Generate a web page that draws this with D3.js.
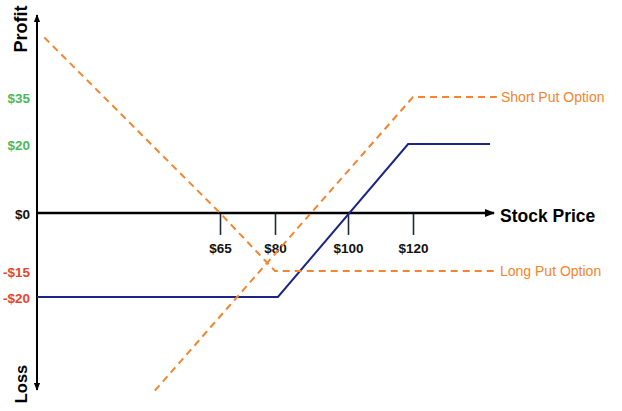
<!DOCTYPE html>
<html>
<head>
<meta charset="utf-8">
<script src="https://cdn.jsdelivr.net/npm/d3@7"></script>
<style>
  body { margin: 0; background: #fff; }
  text { font-family: Arial, "Liberation Sans", sans-serif; }
</style>
</head>
<body>
<div id="chart"></div>
<script>
// stock prices marked on the x axis
var priceTicks = [65, 80, 100, 120];
// profit levels marked on the y axis
var profitTicks = [35, 20, 0, -15, -20];
var profitColors = ["#4cb858", "#4cb858", "#111", "#e8432f", "#e8432f"];

// each series: [stock price, profit]
var spread = [[15, -20], [80.8, -20], [118.5, 20], [143.7, 20]];
var shortPut = [[47.2, -38], [120, 35], [145.8, 35]];
var longPut = [[17, 54], [65, 0], [80, -15], [145.8, -15]];

var W = 622, H = 411;

var svg = d3.select("#chart")
  .append("svg")
    .attr("width", W)
    .attr("height", H);

// the picture is a sketch, so the scales are piecewise
var x = d3.scaleLinear()
  .domain([15, 65, 80, 100, 120])
  .range([37, 220, 275, 348, 413]);
var y = d3.scaleLinear()
  .domain([-20, -15, 0, 20, 35])
  .range([297, 271, 213, 144, 97]);

// arrow heads
var defs = svg.append("defs");
defs.append("marker")
    .attr("id", "arrow")
    .attr("viewBox", "0 0 10 10")
    .attr("refX", 9).attr("refY", 5)
    .attr("markerWidth", 4).attr("markerHeight", 4)
    .attr("markerUnits", "strokeWidth")
    .attr("orient", "auto-start-reverse")
  .append("path")
    .attr("d", "M0,1 L10,5 L0,9 z")
    .attr("fill", "#000");

// y axis line
svg.append("line")
  .attr("x1", x(15)).attr("x2", x(15))
  .attr("y1", 390).attr("y2", 15)
  .attr("stroke", "#000")
  .attr("stroke-width", 2)
  .attr("marker-start", "url(#arrow)")
  .attr("marker-end", "url(#arrow)");

// x axis ticks
var xAxis = svg.append("g")
  .attr("transform", "translate(0," + y(0) + ")")
  .call(d3.axisBottom(x).tickValues(priceTicks).tickSize(22).tickFormat(function(d) { return "$" + d; }));
xAxis.select(".domain").remove();
xAxis.selectAll(".tick line").attr("stroke", "#1f2a3a").attr("stroke-width", 1.6);
xAxis.selectAll(".tick text")
  .attr("y", 30)
  .attr("dy", "0.71em")
  .style("font-size", "13.5px")
  .style("font-weight", "bold")
  .style("font-family", "Arial, 'Liberation Sans', sans-serif")
  .attr("fill", "#111");

// x axis line
svg.append("line")
  .attr("x1", x(15)).attr("x2", 494)
  .attr("y1", y(0)).attr("y2", y(0))
  .attr("stroke", "#000")
  .attr("stroke-width", 2.6)
  .attr("marker-end", "url(#arrow)");

// y axis labels
var yAxis = svg.append("g")
  .attr("transform", "translate(" + (x(15) - 7) + ",0)")
  .call(d3.axisLeft(y).tickValues(profitTicks).tickSize(0).tickFormat(function(d) { return d < 0 ? "-$" + (-d) : "$" + d; }));
yAxis.select(".domain").remove();
yAxis.selectAll(".tick text")
  .attr("x", 0)
  .attr("dy", "0.4em")
  .style("font-size", "13.5px")
  .style("font-weight", "bold")
  .style("font-family", "Arial, 'Liberation Sans', sans-serif")
  .attr("fill", function(d, i) { return profitColors[i]; });

// axis titles
svg.append("text")
  .attr("transform", "translate(27,29) rotate(-90)")
  .attr("text-anchor", "middle")
  .style("font-size", "18px")
  .style("font-weight", "bold")
  .text("Profit");
svg.append("text")
  .attr("transform", "translate(27,384) rotate(-90)")
  .attr("text-anchor", "middle")
  .style("font-size", "16.5px")
  .style("font-weight", "bold")
  .text("Loss");
svg.append("text")
  .attr("x", 500)
  .attr("y", 222)
  .style("font-size", "17.5px")
  .style("font-weight", "bold")
  .text("Stock Price");

var line = d3.line()
  .x(function(d) { return x(d[0]); })
  .y(function(d) { return y(d[1]); });

svg.append("path")
  .datum(spread)
  .attr("d", line)
  .attr("fill", "none")
  .attr("stroke", "#1c2585")
  .attr("stroke-width", 2);

svg.selectAll(".put")
  .data([shortPut, longPut])
  .enter()
  .append("path")
    .attr("class", "put")
    .attr("d", line)
    .attr("fill", "none")
    .attr("stroke", "#f4852e")
    .attr("stroke-width", 2)
    .attr("stroke-dasharray", "7,5");

// series labels
svg.append("text")
  .attr("x", 501)
  .attr("y", y(35) + 5)
  .style("font-size", "14px")
  .attr("fill", "#f4852e")
  .text("Short Put Option");
svg.append("text")
  .attr("x", 500)
  .attr("y", y(-15) + 5)
  .style("font-size", "14px")
  .attr("fill", "#f4852e")
  .text("Long Put Option");
</script>
</body>
</html>
